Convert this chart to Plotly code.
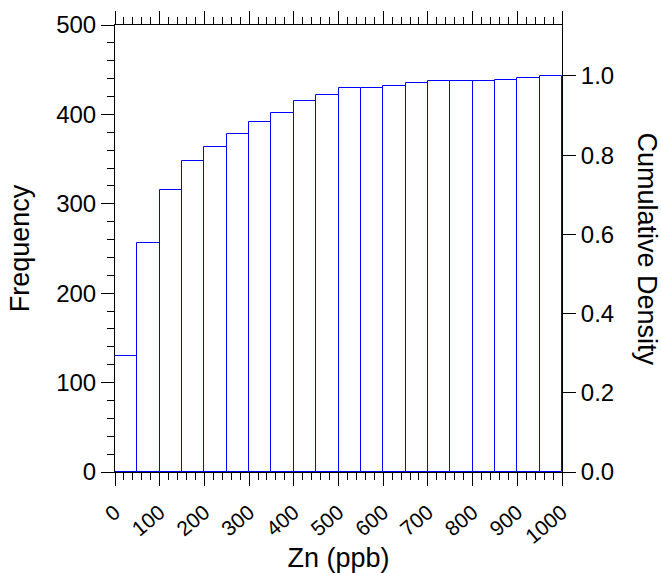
import plotly.graph_objects as go

# Data (cumulative frequency per 50 ppb bin)
bin_left = [0, 50, 100, 150, 200, 250, 300, 350, 400, 450,
            500, 550, 600, 650, 700, 750, 800, 850, 900, 950]
bin_width = 50
cum_freq = [130, 256, 315, 348, 364, 378, 392, 402, 415, 422,
            429, 430, 432, 435, 437, 437, 437, 439, 441, 443]
total_n = 443
x_ticks = [0, 100, 200, 300, 400, 500, 600, 700, 800, 900, 1000]
x_tick_labels = [str(v) for v in x_ticks]

centers = [b + bin_width / 2 for b in bin_left]

FONT = "Liberation Sans, Arial, sans-serif"
AX = "black"

fig = go.Figure()
fig.add_trace(go.Bar(
    x=centers, y=cum_freq, width=[bin_width] * len(centers),
    marker=dict(color="white", line=dict(color="#0000ff", width=1)),
    showlegend=False,
))
# invisible trace for secondary axis
fig.add_trace(go.Scatter(x=[0], y=[0], yaxis="y2", mode="markers",
                         marker=dict(opacity=0), showlegend=False,
                         hoverinfo="skip"))

fig.update_layout(
    width=661, height=573,
    margin=dict(l=115, r=99, t=25, b=101, autoexpand=False),
    paper_bgcolor="white", plot_bgcolor="white",
    font=dict(family=FONT, color="black", size=24),
    bargap=0,
    xaxis=dict(
        range=[0, 1000], tickvals=x_ticks, ticktext=x_tick_labels,
        tickangle=-40, tickfont=dict(size=21), ticklabelstandoff=6,
        ticks="outside", ticklen=13, tickcolor=AX, tickwidth=1,
        minor=dict(dtick=20, ticks="outside", ticklen=7, tickcolor=AX, tickwidth=1),
        showline=True, linecolor=AX, linewidth=1, mirror="ticks",
        showgrid=False, zeroline=False, automargin=False,
        title=dict(text="Zn (ppb)", font=dict(size=27), standoff=8),
    ),
    yaxis=dict(
        range=[0, 500], dtick=100, tick0=0,
        ticks="outside", ticklen=13, tickcolor=AX, tickwidth=1,
        minor=dict(dtick=20, ticks="outside", ticklen=7, tickcolor=AX, tickwidth=1),
        showline=True, linecolor=AX, linewidth=1,
        showgrid=False, zeroline=False, automargin=False,
        tickfont=dict(size=24),
        title=dict(text="Frequency", font=dict(size=27), standoff=18),
    ),
    yaxis2=dict(
        overlaying="y", side="right", range=[0, 500 / total_n],
        tickvals=[0, 0.2, 0.4, 0.6, 0.8, 1.0], tickformat=".1f",
        ticks="outside", ticklen=13, tickcolor=AX, tickwidth=1,
        showline=True, linecolor=AX, linewidth=1, automargin=False,
        showgrid=False, zeroline=False, tickfont=dict(size=24),
    ),
    annotations=[dict(
        text="Cumulative Density", textangle=90, showarrow=False,
        xref="paper", yref="paper", x=1.0, y=0.5,
        xanchor="left", yanchor="middle", xshift=68,
        font=dict(size=27, family=FONT),
    )],
)

fig.write_html("out.html")
